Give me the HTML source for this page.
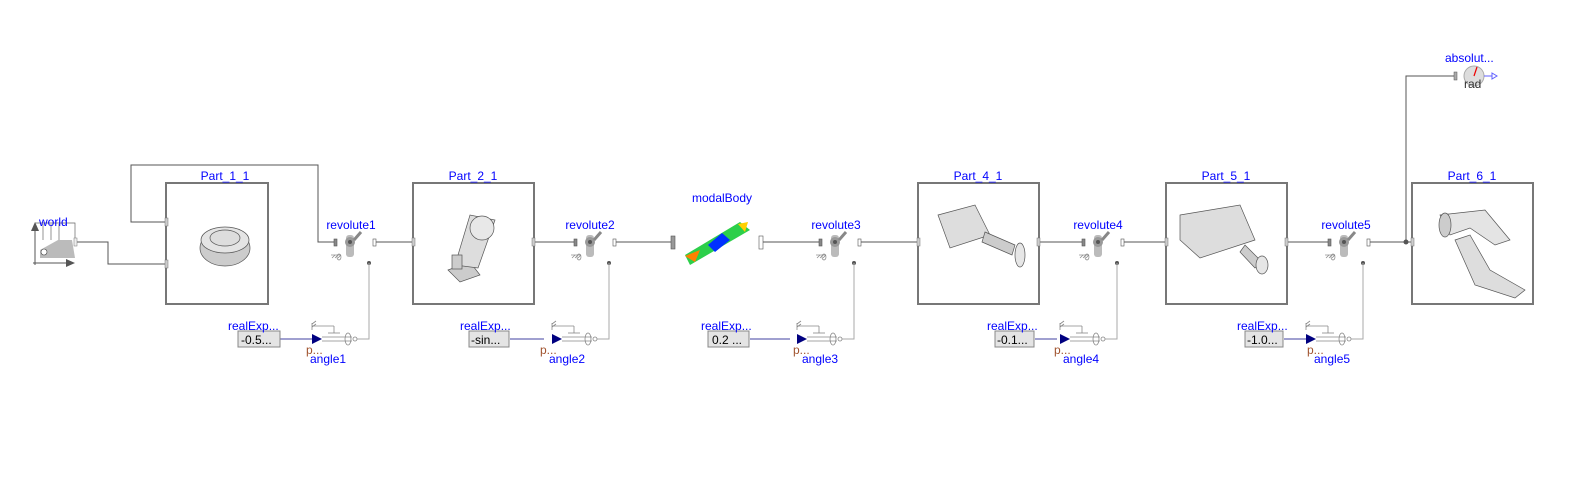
<!DOCTYPE html>
<html><head><meta charset="utf-8"><style>
body{margin:0;background:#fff}
svg{display:block}
text{font-family:"Liberation Sans",sans-serif;font-size:12px}
.l{fill:#0000ff}
</style></head><body>
<svg width="1571" height="478" viewBox="0 0 1571 478">
<defs>
<g id="rev">
 <rect x="-17" y="-3" width="3" height="7" fill="#888" stroke="#555" stroke-width="0.6"/>
 <rect x="22" y="-3" width="3" height="7" fill="#fff" stroke="#555" stroke-width="0.6"/>
 <rect x="-5" y="-7" width="8" height="22" rx="3" fill="#bbb"/>
 <circle cx="-1" cy="0" r="5" fill="#999"/>
 <circle cx="-1" cy="0" r="2" fill="#555"/>
 <line x1="3" y1="-2" x2="10" y2="-10" stroke="#888" stroke-width="3"/>
 <g stroke="#888" stroke-width="0.7" fill="none"><line x1="-20" y1="13" x2="-10" y2="13"/><line x1="-19" y1="16" x2="-16" y2="13"/><line x1="-16" y1="16" x2="-13" y2="13"/><line x1="-13" y1="16" x2="-10" y2="13"/><ellipse cx="-12" cy="15" rx="2" ry="3"/></g>
 <circle cx="18" cy="21" r="2" fill="#555"/>
</g>
<g id="ang">
 <polygon points="0,-5 10,0 0,5" fill="#000080"/>
 <g stroke="#888" stroke-width="0.8" fill="none">
 <line x1="10" y1="-2" x2="40" y2="-2"/><line x1="10" y1="2" x2="40" y2="2"/>
 <line x1="0" y1="-16" x2="0" y2="-9"/><line x1="0" y1="-13" x2="22" y2="-13"/><line x1="22" y1="-13" x2="22" y2="-6"/><line x1="16" y1="-6" x2="28" y2="-6"/>
 <line x1="0" y1="-15" x2="4" y2="-18"/><line x1="0" y1="-12" x2="4" y2="-15"/>
 <ellipse cx="36" cy="0" rx="3" ry="6"/><circle cx="43" cy="0" r="2" fill="#fff"/>
 </g>
</g>
<g id="pl"><rect x="-2" y="-4" width="3" height="8" fill="#ccc" stroke="#777" stroke-width="0.5"/></g>
</defs>

<g stroke="#555" stroke-width="1" fill="none">
 <!-- world connections -->
 <polyline points="75,242 108,242 108,264 166,264"/>
 <polyline points="166,222 131,222 131,165 318,165 318,242 334,242"/>
 <line x1="373" y1="242" x2="413" y2="242"/>
 <line x1="534" y1="242" x2="574" y2="242"/>
 <line x1="613" y1="242" x2="672" y2="242"/>
 <line x1="763" y1="242" x2="819" y2="242"/>
 <line x1="859" y1="242" x2="918" y2="242"/>
 <line x1="1039" y1="242" x2="1082" y2="242"/>
 <line x1="1121" y1="242" x2="1166" y2="242"/>
 <line x1="1287" y1="242" x2="1328" y2="242"/>
 <line x1="1368" y1="242" x2="1412" y2="242"/>
 <polyline points="1406,242 1406,76 1455,76"/>
</g>
<circle cx="1406" cy="242" r="2.5" fill="#555"/>

<!-- Part boxes -->
<g stroke="#777" stroke-width="2" fill="#fff">
 <rect x="166" y="183" width="102" height="121"/>
 <rect x="413" y="183" width="121" height="121"/>
 <rect x="918" y="183" width="121" height="121"/>
 <rect x="1166" y="183" width="121" height="121"/>
 <rect x="1412" y="183" width="121" height="121"/>
</g>
<use href="#pl" x="167" y="222"/><use href="#pl" x="167" y="264"/>
<use href="#pl" x="414" y="242"/><use href="#pl" x="534" y="242"/>
<use href="#pl" x="919" y="242"/><use href="#pl" x="1039" y="242"/>
<use href="#pl" x="1167" y="242"/><use href="#pl" x="1287" y="242"/>
<use href="#pl" x="1413" y="242"/>
<text class="l" x="225" y="180" text-anchor="middle">Part_1_1</text>
<text class="l" x="473" y="180" text-anchor="middle">Part_2_1</text>
<text class="l" x="978" y="180" text-anchor="middle">Part_4_1</text>
<text class="l" x="1226" y="180" text-anchor="middle">Part_5_1</text>
<text class="l" x="1472" y="180" text-anchor="middle">Part_6_1</text>

<!-- part images -->
<g fill="#ccc" stroke="#555" stroke-width="0.7">
 <ellipse cx="225" cy="248" rx="25" ry="18"/><ellipse cx="225" cy="240" rx="24" ry="13" fill="#e4e4e4"/><ellipse cx="225" cy="238" rx="15" ry="8" fill="#ddd"/>
 <path d="M448,270 L470,262 L480,275 L460,282 Z"/><path d="M455,265 L470,215 L495,220 L478,268 Z" fill="#ddd"/><circle cx="482" cy="228" r="12" fill="#e8e8e8"/><rect x="452" y="255" width="10" height="14"/>
 <path d="M938,215 L975,205 L990,235 L950,248 Z" fill="#ddd"/><path d="M985,232 L1015,245 L1012,255 L982,242 Z"/><ellipse cx="1020" cy="255" rx="5" ry="12" fill="#e6e6e6"/>
 <path d="M1180,215 L1240,205 L1255,240 L1200,258 L1180,240 Z" fill="#ddd"/><path d="M1245,245 L1262,262 L1255,268 L1240,252 Z"/><ellipse cx="1262" cy="265" rx="6" ry="9" fill="#e6e6e6"/>
 <path d="M1440,215 L1485,210 L1510,240 L1495,245 L1470,228 L1450,235 Z" fill="#e4e4e4"/><path d="M1455,240 L1470,235 L1490,270 L1525,290 L1515,298 L1475,285 Z" fill="#ddd"/><ellipse cx="1445" cy="225" rx="6" ry="12"/>
</g>

<!-- world -->
<g>
 <line x1="35" y1="227" x2="35" y2="265" stroke="#555"/><polygon points="31,231 35,222 39,231" fill="#555"/>
 <line x1="33" y1="263" x2="70" y2="263" stroke="#555"/><polygon points="66,259 75,263 66,267" fill="#555"/>
 <polygon points="40,258 40,250 58,240 72,240 75,258" fill="#bbb"/>
 <rect x="74" y="238" width="3" height="8" fill="#eee" stroke="#777" stroke-width="0.5"/>
 <g stroke="#666" stroke-width="0.7"><line x1="43" y1="224" x2="43" y2="240"/><line x1="51" y1="224" x2="51" y2="240"/><line x1="59" y1="224" x2="59" y2="240"/><polyline points="35,223 75,223 75,238" fill="none"/></g>
 <circle cx="44" cy="252" r="3" fill="#fff" stroke="#444" stroke-width="0.6"/>
 <text class="l" x="39" y="226">world</text>
</g>

<!-- revolutes -->
<use href="#rev" x="351" y="242"/><use href="#rev" x="591" y="242"/><use href="#rev" x="836" y="242"/><use href="#rev" x="1099" y="242"/><use href="#rev" x="1345" y="242"/>
<text class="l" x="351" y="229" text-anchor="middle">revolute1</text>
<text class="l" x="590" y="229" text-anchor="middle">revolute2</text>
<text class="l" x="836" y="229" text-anchor="middle">revolute3</text>
<text class="l" x="1098" y="229" text-anchor="middle">revolute4</text>
<text class="l" x="1346" y="229" text-anchor="middle">revolute5</text>

<!-- angle vertical lines -->
<g stroke="#aaa" stroke-width="1" fill="none">
 <polyline points="369,263 369,339 357,339"/>
 <polyline points="609,263 609,339 597,339"/>
 <polyline points="854,263 854,339 842,339"/>
 <polyline points="1117,263 1117,339 1105,339"/>
 <polyline points="1363,263 1363,339 1351,339"/>
</g>
<!-- realExp boxes and angle -->
<g>
 <g stroke="#000080" stroke-width="0.8"><line x1="280" y1="339" x2="312" y2="339"/><line x1="510" y1="339" x2="544" y2="339"/><line x1="750" y1="339" x2="790" y2="339"/><line x1="1035" y1="339" x2="1057" y2="339"/><line x1="1284" y1="339" x2="1307" y2="339"/></g>
 <use href="#ang" x="312" y="339"/><use href="#ang" x="552" y="339"/><use href="#ang" x="797" y="339"/><use href="#ang" x="1060" y="339"/><use href="#ang" x="1306" y="339"/>
 <g fill="#e4e4e4" stroke="#888" stroke-width="1">
  <rect x="238" y="331" width="42" height="16"/><rect x="469" y="331" width="40" height="16"/><rect x="708" y="331" width="41" height="16"/><rect x="995" y="331" width="39" height="16"/><rect x="1245" y="331" width="38" height="16"/>
 </g>
 <g font-size="12">
  <text x="241" y="344">-0.5...</text><text x="471" y="344">-sin...</text><text x="712" y="344">0.2 ...</text><text x="997" y="344">-0.1...</text><text x="1247" y="344">-1.0...</text>
 </g>
 <text class="l" x="228" y="330">realExp...</text><text class="l" x="460" y="330">realExp...</text><text class="l" x="701" y="330">realExp...</text><text class="l" x="987" y="330">realExp...</text><text class="l" x="1237" y="330">realExp...</text>
 <g fill="#a0522d" font-size="11"><text x="306" y="354">p...</text><text x="540" y="354">p...</text><text x="793" y="354">p...</text><text x="1054" y="354">p...</text><text x="1307" y="354">p...</text></g>
 <text class="l" x="310" y="363">angle1</text><text class="l" x="549" y="363">angle2</text><text class="l" x="802" y="363">angle3</text><text class="l" x="1063" y="363">angle4</text><text class="l" x="1314" y="363">angle5</text>
</g>

<!-- modalBody -->
<rect x="671" y="236" width="4" height="13" fill="#999" stroke="#555" stroke-width="0.6"/>
<rect x="759" y="236" width="4" height="13" fill="#fff" stroke="#555" stroke-width="0.6"/>
<polygon points="685,255 740,222 750,230 690,265" fill="#2ccf4a"/>
<polygon points="708,245 722,233 730,240 715,252" fill="#0030ff"/>
<polygon points="685,256 700,250 695,262" fill="#ff8000"/>
<polygon points="738,224 748,222 745,232" fill="#ffd000"/>
<text class="l" x="722" y="202" text-anchor="middle">modalBody</text>

<!-- absolute sensor -->
<rect x="1454" y="72" width="3" height="8" fill="#aaa" stroke="#555" stroke-width="0.5"/>
<circle cx="1474" cy="76" r="10" fill="#ddd" stroke="#aaa"/>
<line x1="1474" y1="76" x2="1477" y2="67" stroke="#e00" stroke-width="1.2"/>
<line x1="1484" y1="76" x2="1492" y2="76" stroke="#6060ff"/>
<polygon points="1492,73 1497,76 1492,79" fill="#fff" stroke="#6060ff"/>
<text x="1464" y="88" font-size="12" fill="#333">rad</text>
<text class="l" x="1445" y="62">absolut...</text>
</svg>
</body></html>
